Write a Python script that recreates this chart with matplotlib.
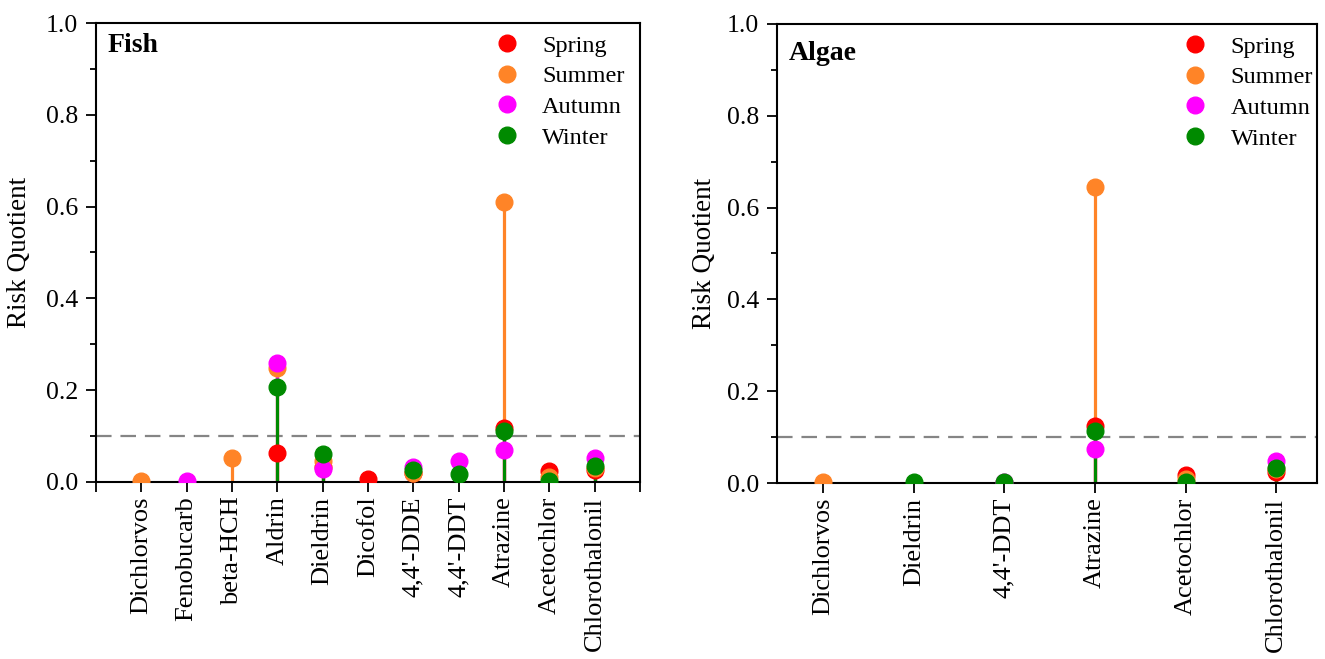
import numpy as np
import matplotlib
matplotlib.use('Agg')
from matplotlib import pyplot as plt

plt.rcParams['font.family'] = ['Liberation Serif', 'DejaVu Serif']

seasons = ['Spring', 'Summer', 'Autumn', 'Winter']
colors = ['#ff0000', '#ff8427', '#ff00ff', '#008a00']

fish_names = ['Dichlorvos', 'Fenobucarb', 'beta-HCH', 'Aldrin', 'Dieldrin', 'Dicofol',
              "4,4'-DDE", "4,4'-DDT", 'Atrazine', 'Acetochlor', 'Chlorothalonil']
fish_spring = [0.0, 0.0, 0.0, 0.064, 0.032, 0.007, 0.02, 0.0, 0.118, 0.023, 0.027]
fish_summer = [0.002, 0.0, 0.053, 0.248, 0.045, 0.0, 0.02, 0.0, 0.609, 0.01, 0.03]
fish_autumn = [0.0, 0.002, 0.0, 0.26, 0.028, 0.0, 0.033, 0.046, 0.07, 0.0, 0.052]
fish_winter = [0.0, 0.0, 0.0, 0.206, 0.06, 0.0, 0.027, 0.018, 0.111, 0.003, 0.035]

algae_names = ['Dichlorvos', 'Dieldrin', "4,4'-DDT", 'Atrazine', 'Acetochlor', 'Chlorothalonil']
algae_spring = [0.0, 0.0, 0.0, 0.124, 0.018, 0.023]
algae_summer = [0.002, 0.0, 0.0, 0.645, 0.008, 0.03]
algae_autumn = [0.0, 0.0, 0.003, 0.073, 0.0, 0.047]
algae_winter = [0.0, 0.002, 0.002, 0.114, 0.002, 0.033]

threshold = 0.1

fig = plt.figure(figsize=(13.25, 6.59), dpi=100)
# axes boxes in figure fractions (fish: 96..640 px, algae: 777..1317 px)
ax1 = fig.add_axes([96 / 1325, 1 - 482 / 659, 544 / 1325, 459 / 659])
ax2 = fig.add_axes([777 / 1325, 1 - 483 / 659, 540 / 1325, 459 / 659])


def draw(ax, names, series, title, xlim, title_y, leg_x, ylab_x):
    x = np.arange(1, len(names) + 1)
    for vals, c, lab in zip(series, colors, seasons):
        vals = np.array(vals)
        keep = vals > 0
        ax.vlines(x[keep], 0, vals[keep], color=c, lw=2.3, zorder=2)
        ax.plot(x[keep], vals[keep], 'o', color=c, ms=12, label=lab, zorder=3)
    ax.axhline(threshold, color='#858585', lw=1.6, ls=(0, (7, 4)), zorder=1)
    ax.set_xlim(*xlim)
    ax.set_ylim(0, 1.0)
    ax.set_xticks(x)
    ax.set_xticklabels(names, rotation=90, fontsize=19)
    ax.set_yticks(np.arange(0, 1.01, 0.2))
    ax.set_yticks(np.arange(0.1, 1.0, 0.2), minor=True)
    ax.yaxis.set_major_formatter(matplotlib.ticker.FormatStrFormatter('%.1f'))
    ax.tick_params(axis='y', labelsize=18.5, length=7, width=1.3, direction='out', pad=6)
    ax.tick_params(axis='y', which='minor', length=4, width=1.3)
    ax.tick_params(axis='x', which='both', length=7, width=1.3, direction='out', pad=3.5)
    for s in ax.spines.values():
        s.set_linewidth(1.5)
    ax.set_ylabel('Risk Quotient', fontsize=19.5)
    ax.yaxis.set_label_coords(ylab_x, 0.5)
    ax.text(0.021, title_y, title, transform=ax.transAxes, fontsize=20,
            fontweight='bold', va='center', ha='left')
    ax.legend(loc='upper left', bbox_to_anchor=(leg_x, 0.974), frameon=False,
              fontsize=17.5, handlelength=1.0, handletextpad=0.95,
              labelspacing=0.35, borderaxespad=0, borderpad=0)


draw(ax1, fish_names, [fish_spring, fish_summer, fish_autumn, fish_winter],
     'Fish', (0, 12), 0.95, 0.733, -0.117)
ax1.set_xticks([0, 12], minor=True)
draw(ax2, algae_names, [algae_spring, algae_summer, algae_autumn, algae_winter],
     'Algae', (0.49, 6.45), 0.935, 0.752, -0.111)

fig.savefig('out.png', dpi=100)
